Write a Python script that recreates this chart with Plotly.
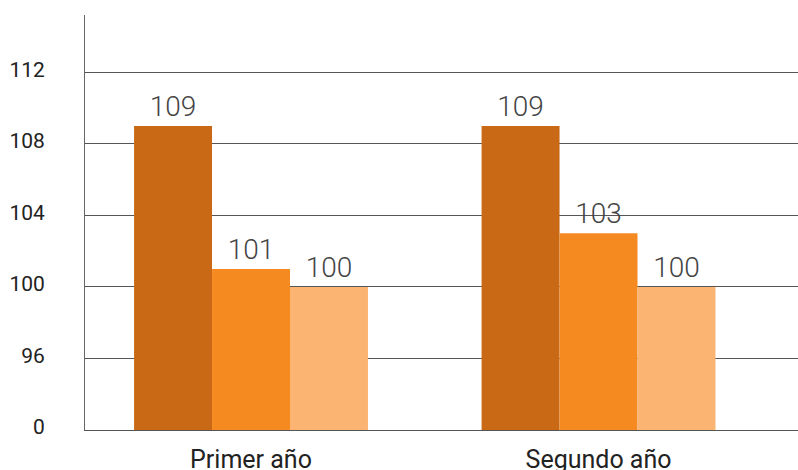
import plotly.graph_objects as go

categories = ["Primer año", "Segundo año"]
serie_a = [109, 109]
serie_b = [101, 103]
serie_c = [100, 100]
colors = ["#C96916", "#F58B20", "#FBB471"]

tick_values = [92, 96, 100, 104, 108, 112]
tick_labels = ["0", "96", "100", "104", "108", "112"]
base = 92  # broken axis: "0" drawn at position of 92

x = list(range(len(categories)))
fig = go.Figure()
for vals, col in zip([serie_a, serie_b, serie_c], colors):
    fig.add_trace(go.Bar(
        x=x, y=[v - base for v in vals], marker_color=col, marker_line_width=0,
        text=[str(v) for v in vals], textposition="outside", cliponaxis=False,
        textfont=dict(family="Roboto", size=28, color="#444444", weight=300),
    ))

fig.update_layout(
    width=798, height=470, margin=dict(l=85, r=0, t=15, b=40, autoexpand=False),
    barmode="group", bargap=0.327, bargroupgap=0,
    plot_bgcolor="white", paper_bgcolor="white", showlegend=False,
    font=dict(family="Roboto", color="#222222"),
)
fig.update_xaxes(
    tickvals=x, ticktext=categories, range=[-0.4777, 1.574], automargin=False,
    showgrid=False, showline=True, linecolor="#555555", linewidth=1,
    tickfont=dict(size=25, color="#222222"), ticks="", ticklabelstandoff=7,
    zeroline=False,
)
fig.update_yaxes(
    tickvals=[t - base for t in tick_values], ticktext=tick_labels,
    range=[0, 23.2], showgrid=True, gridcolor="#555555", gridwidth=1, automargin=False,
    showline=True, linecolor="#666666", linewidth=1, zeroline=False,
    tickfont=dict(size=21, color="#222222"), ticks="", ticklabelstandoff=35,
    ticklabelshift=-3,
)
fig.write_html(
    "out.html",
    config={"displayModeBar": False},
    post_script="document.body.style.margin='0';document.body.style.overflow='hidden';",
)
